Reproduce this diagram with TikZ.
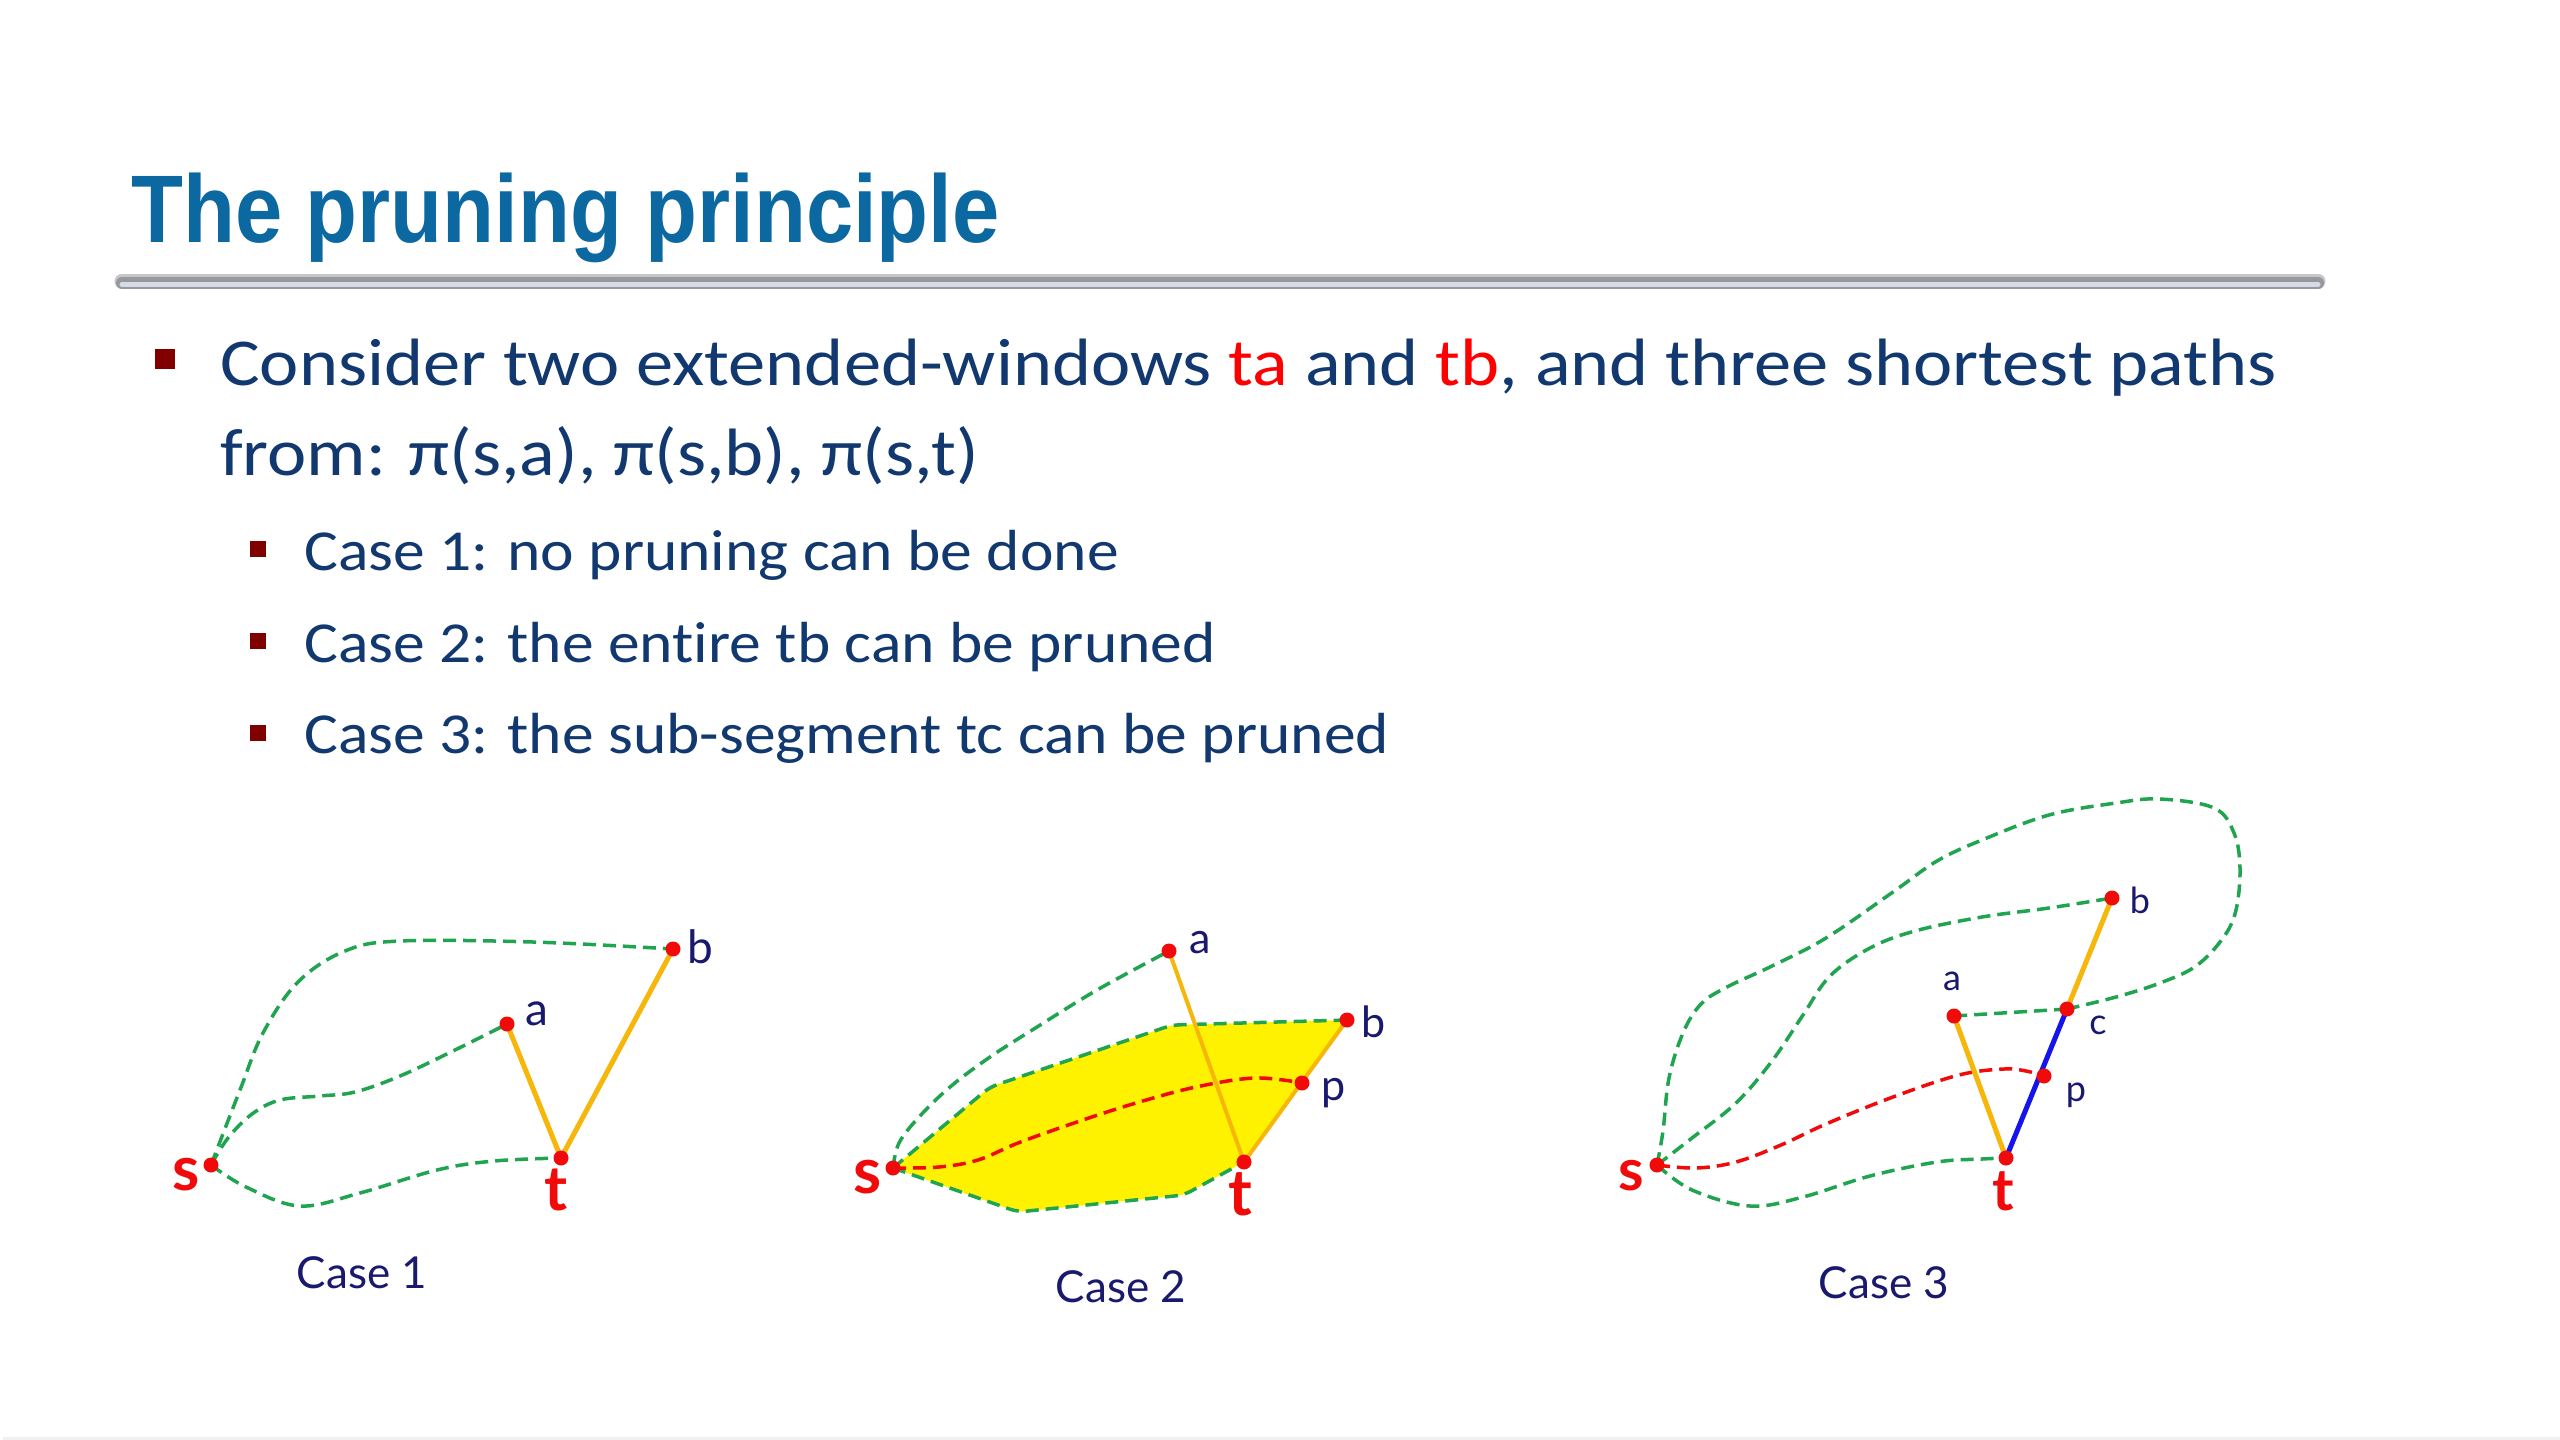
\documentclass[tikz,border=0pt]{standalone}
\usepackage{fontspec}
\setmainfont{Carlito}[Ligatures=NoCommon]
\newfontfamily\titlefont{Liberation Sans}
\newfontfamily\labfont{Lato}
\definecolor{titleblue}{RGB}{12,104,160}
\definecolor{navy}{RGB}{18,56,112}
\definecolor{bulred}{RGB}{128,0,0}
\definecolor{gdgreen}{RGB}{32,164,80}
\definecolor{dotred}{RGB}{240,10,10}
\definecolor{segorange}{RGB}{246,182,10}
\definecolor{segblue}{RGB}{20,20,235}
\definecolor{labnavy}{RGB}{25,25,110}
\definecolor{barout}{RGB}{150,152,160}
\definecolor{barin}{RGB}{214,218,228}
\newcommand{\wideone}[1]{\scalebox{1.11}[1]{#1}}
\newcommand{\widetwo}[1]{\scalebox{1.095}[1]{#1}}
\tikzset{
  gdash/.style={draw=gdgreen, line width=3.5pt, dash pattern=on 13pt off 7pt},
  rdash/.style={draw=dotred, line width=3.5pt, dash pattern=on 13pt off 7pt},
  oline/.style={draw=segorange, line width=5pt},
  bline/.style={draw=segblue, line width=5pt},
  dot/.style={circle, fill=dotred, inner sep=0pt, minimum size=15pt},
  bodytext/.style={anchor=base west, inner sep=0pt, text=navy, font=\fontsize{67}{80}\selectfont},
  subtext/.style={anchor=base west, inner sep=0pt, text=navy, font=\fontsize{58}{70}\selectfont},
  bulone/.style={rectangle, fill=bulred, inner sep=0pt, minimum size=20pt},
  bultwo/.style={rectangle, fill=bulred, inner sep=0pt, minimum size=16pt},
  stlab/.style={anchor=base, inner sep=0pt, text=dotred, font=\labfont\bfseries\fontsize{#1}{#1}\selectfont},
  ltlab/.style={anchor=base, inner sep=0pt, text=labnavy, font=\labfont\fontsize{#1}{#1}\selectfont},
  caselab/.style={anchor=base, inner sep=0pt, text=labnavy, font=\labfont\fontsize{44}{48}\selectfont},
}
\begin{document}
\begin{tikzpicture}[x=1pt,y=-1pt]
\useasboundingbox (0,0) rectangle (2560,1440);
\fill[white] (0,0) rectangle (2560,1440);
\fill[gray!12] (3,1437) rectangle (2560,1440);
% title
\node[anchor=base west, inner sep=0pt, text=titleblue] (title) at (131,242)
  {\scalebox{0.885}[1]{\titlefont\bfseries\fontsize{96}{100}\selectfont The pruning principle}};
\coordinate (barL) at (122,283);
\coordinate (barR) at (2318,283);
\draw[barout, line width=15pt, line cap=round, opacity=0.55] ([yshift=2pt]barL) -- ([yshift=2pt]barR);
\draw[barout, line width=12pt, line cap=round] (barL) -- (barR);
\draw[barin, line width=5pt, line cap=round] ([yshift=-1.5pt]barL) -- ([yshift=-1.5pt]barR);
% bullets
\node[bulone] (bu0) at (165,359) {};
\node[bodytext] (l1) at (220,385) {\wideone{Consider two extended-windows \textcolor{red}{ta} and \textcolor{red}{tb}, and three shortest paths}};
\node[bodytext] (l2) at (220,475) {\wideone{from: π(s,a), π(s,b), π(s,t)}};
\node[bultwo] (bu1) at (258,549) {};
\node[subtext] (c1) at (304,570) {\widetwo{Case 1: no pruning can be done}};
\node[bultwo] (bu2) at (258,641) {};
\node[subtext] (c2) at (304,662) {\widetwo{Case 2: the entire tb can be pruned}};
\node[bultwo] (bu3) at (258,733) {};
\node[subtext] (c3) at (304,753) {\widetwo{Case 3: the sub-segment tc can be pruned}};

% ---------------- Case 1
\coordinate (s1) at (211,1165);
\coordinate (a1) at (507,1024);
\coordinate (b1) at (673,949);
\coordinate (t1) at (561,1158);
\draw[gdash] plot[smooth, tension=0.6] coordinates {(s1) (240,1090) (263,1033) (298,982) (345,951) (400,941) (533,942) (b1)};
\draw[gdash] plot[smooth, tension=0.6] coordinates {(s1) (228,1138) (252,1114) (280,1100) (320,1096) (355,1092) (400,1076) (455,1050) (a1)};
\draw[gdash] plot[smooth, tension=0.6] coordinates {(s1) (246,1187) (300,1206) (360,1193) (437,1170) (494,1161) (t1)};
\draw[oline] (a1) -- (t1) -- (b1);
\node[dot] (s1d) at (s1) {};
\node[dot] (a1d) at (a1) {};
\node[dot] (b1d) at (b1) {};
\node[dot] (t1d) at (t1) {};
\node[stlab=62] (s1l) at (186,1190) {s};
\node[stlab=62] (t1l) at (556,1210) {t};
\node[ltlab=46] (a1l) at (537,1025) {a};
\node[ltlab=46] (b1l) at (700,963) {b};
\node[caselab] (cap1) at (362,1288) {Case 1};

% ---------------- Case 2
\coordinate (s2) at (893,1168);
\coordinate (a2) at (1169,951);
\coordinate (b2) at (1347,1020);
\coordinate (p2) at (1302,1083);
\coordinate (t2) at (1244,1162);
\coordinate (u1) at (990,1087);
\coordinate (u2) at (1172,1025);
\coordinate (w1) at (1184,1195);
\coordinate (w2) at (1018,1212);
\fill[yellow, rounded corners=6pt] (s2) -- (u1) -- (u2) -- (b2) -- (t2) -- (w1) -- (w2) -- cycle;
\draw[gdash, rounded corners=8pt] (s2) -- (u1) -- (u2) -- (b2);
\draw[gdash, rounded corners=8pt] (s2) -- (w2) -- (w1) -- (t2);
\draw[gdash] plot[smooth, tension=0.6] coordinates {(s2) (899,1143) (919,1117) (950,1087) (990,1057) (1037,1027) (1097,990) (a2)};
\draw[rdash] plot[smooth, tension=0.6] coordinates {(s2) (939,1167) (978,1160) (1018,1143) (1077,1122) (1136,1103) (1196,1087) (1255,1078) (p2)};
\draw[oline, line width=4pt] (a2) -- (t2);
\draw[oline, line width=4pt] (t2) -- (b2);
\node[dot] (s2d) at (s2) {};
\node[dot] (a2d) at (a2) {};
\node[dot] (b2d) at (b2) {};
\node[dot] (p2d) at (p2) {};
\node[dot] (t2d) at (t2) {};
\node[stlab=64] (s2l) at (868,1193) {s};
\node[stlab=64] (t2l) at (1240,1215) {t};
\node[ltlab=43] (a2l) at (1200,953) {a};
\node[ltlab=43] (b2l) at (1374,1037) {b};
\node[ltlab=43] (p2l) at (1334,1100) {p};
\node[caselab] (cap2) at (1121,1302) {Case 2};

% ---------------- Case 3
\coordinate (s3) at (1657,1165);
\coordinate (t3) at (2006,1158);
\coordinate (a3) at (1954,1016);
\coordinate (c3) at (2067,1009);
\coordinate (b3) at (2112,898);
\coordinate (p3) at (2044,1076);
\draw[gdash] plot[smooth, tension=0.6] coordinates {(s3) (1663,1131) (1669,1078) (1683,1033) (1701,1004) (1727,987) (1772,966) (1826,938) (1893,892) (1937,861) (1982,840) (2049,815) (2116,803) (2160,799) (2214,808) (2234,833) (2240,868) (2236,910) (2223,938) (2196,966) (2160,983) (2116,997) (c3)};
\draw[gdash] (c3) -- (a3);
\draw[gdash] plot[smooth, tension=0.6] coordinates {(s3) (1692,1138) (1736,1103) (1772,1061) (1803,1015) (1830,976) (1870,948) (1915,931) (1982,917) (2049,908) (b3)};
\draw[gdash] plot[smooth, tension=0.6] coordinates {(s3) (1692,1190) (1750,1206) (1803,1197) (1870,1176) (1937,1162) (1982,1159) (t3)};
\draw[rdash] plot[smooth, tension=0.6] coordinates {(s3) (1696,1168) (1736,1162) (1781,1145) (1826,1124) (1893,1097) (1959,1075) (2004,1069) (2026,1071) (p3)};
\draw[oline] (a3) -- (t3);
\draw[oline] (c3) -- (b3);
\draw[bline] (t3) -- (c3);
\node[dot] (s3d) at (s3) {};
\node[dot] (a3d) at (a3) {};
\node[dot] (b3d) at (b3) {};
\node[dot] (c3d) at (c3) {};
\node[dot] (p3d) at (p3) {};
\node[dot] (t3d) at (t3) {};
\node[stlab=58] (s3l) at (1631,1190) {s};
\node[stlab=58] (t3l) at (2003,1210) {t};
\node[ltlab=36] (a3l) at (1952,990) {a};
\node[ltlab=36] (b3l) at (2140,913) {b};
\node[ltlab=36] (c3l) at (2098,1034) {c};
\node[ltlab=36] (p3l) at (2076,1101) {p};
\node[caselab] (cap3) at (1884,1298) {Case 3};
\end{tikzpicture}
\end{document}
